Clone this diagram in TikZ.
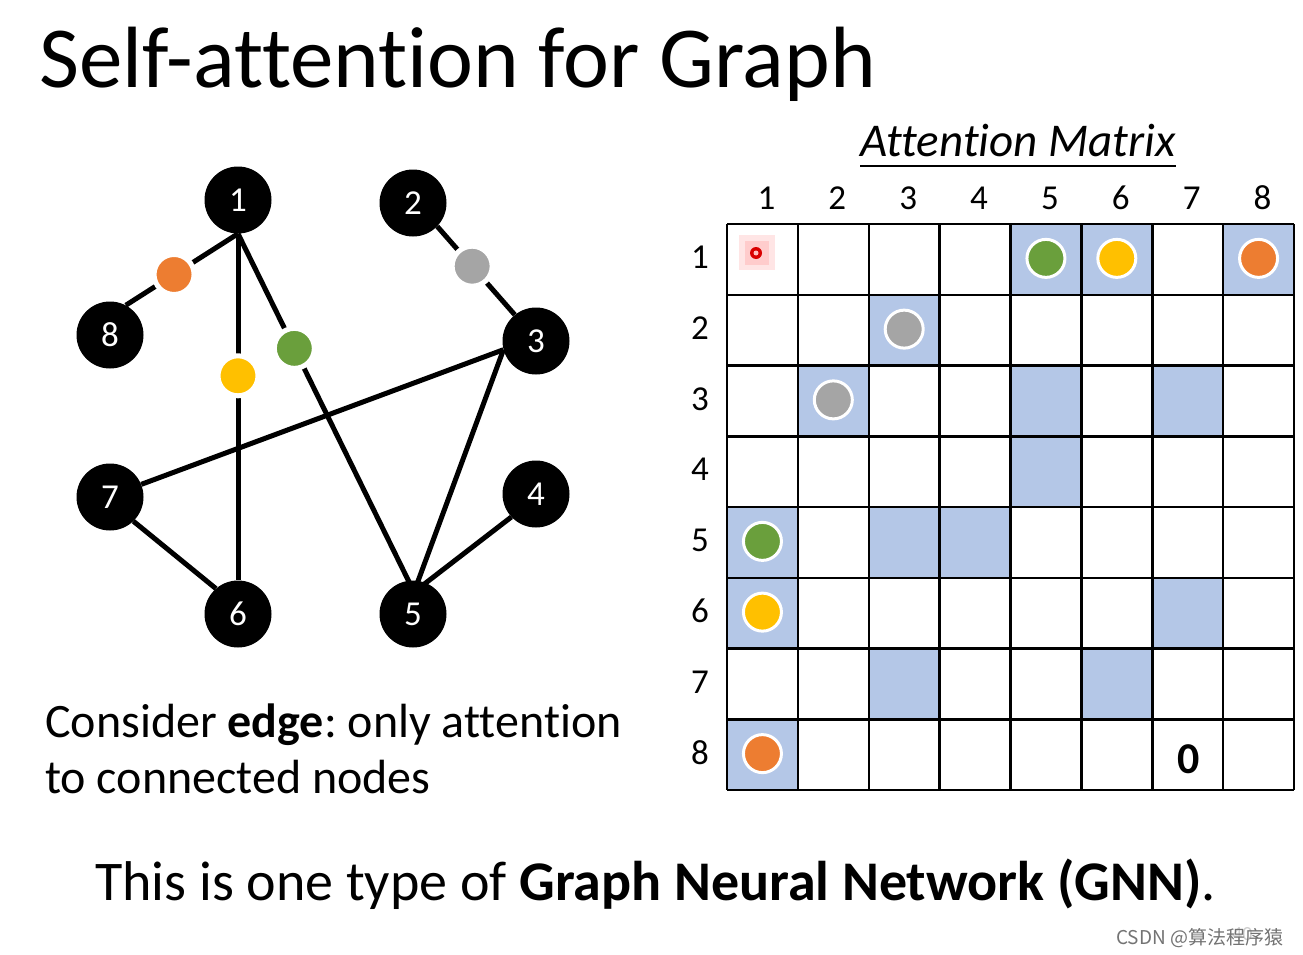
\documentclass[tikz,border=0pt]{standalone}
\usepackage{fontspec}
\setmainfont{Carlito}[Ligatures=NoCommon]
\newfontfamily\cjk{Noto Sans CJK SC}
\usetikzlibrary{backgrounds}
\frenchspacing
\definecolor{cellblue}{HTML}{B4C7E7}
\definecolor{dotgreen}{HTML}{6A9F3C}
\definecolor{dotyellow}{HTML}{FFC000}
\definecolor{dotorange}{HTML}{ED7D31}
\definecolor{dotgray}{HTML}{A5A5A5}

\begin{document}
\begin{tikzpicture}[x=1pt, y=-1pt,
  vertex/.style={circle, fill=black, minimum size=67pt, inner sep=0pt, text=white, font=\fontsize{35}{35}\selectfont},
  edge/.style={line width=5pt},
  attn/.style={circle, draw=white, line width=5pt, minimum size=40pt, inner sep=0pt},
  mdot/.style={circle, draw=white, line width=3pt, minimum size=38pt, inner sep=0pt},
  gridline/.style={line width=2.5pt},
  lbl/.style={font=\fontsize{35}{35}\selectfont, inner sep=0pt}]

\useasboundingbox (0,0) rectangle (1303,955);

% title
\node[anchor=base west, inner sep=0pt, font=\fontsize{87}{87}\selectfont] (title) at (39,88) {Self-attention for Graph};

% graph nodes
\node[vertex] (n1) at (238,200) {1};
\node[vertex] (n2) at (413,203) {2};
\node[vertex] (n3) at (536,341) {3};
\node[vertex] (n4) at (536,494) {4};
\node[vertex] (n5) at (413,614) {5};
\node[vertex] (n6) at (238,614) {6};
\node[vertex] (n7) at (110,497) {7};
\node[vertex] (n8) at (110,335) {8};
\coordinate (c5) at (414,592);

\begin{scope}[on background layer]
\fill[white] (0,0) rectangle (1303,955);
\draw[edge] (n1.south) -- node[attn, fill=dotorange, pos=0.57] (d18) {} (n8.62);
\draw[edge] (n1.south) -- node[attn, fill=dotyellow, pos=0.41] (d16) {} (n6.north);
\draw[edge] (n1.south) -- node[attn, fill=dotgreen, pos=0.32] (d15) {} (c5);
\draw[edge] (n2.-44) -- node[attn, fill=dotgray, pos=0.45] (d23) {} (n3.129);
\draw[edge] (n3.195) -- (n7.22);
\draw[edge] (n3.195) -- (c5);
\draw[edge] (n4.223) -- (c5);
\draw[edge] (n7.-46) -- (n6.131);
\end{scope}

% attention matrix
\node[anchor=base, inner sep=0pt, font=\itshape\fontsize{47}{47}\selectfont] (attitle) at (1018,157) {Attention Matrix};
\draw[line width=2pt] ([yshift=-9pt]attitle.base west) -- ([yshift=-9pt]attitle.base east);

\foreach \r/\c in {1/5,1/6,1/8,2/3,3/2,3/5,3/7,4/5,5/1,5/3,5/4,6/1,6/7,7/3,7/6,8/1}
  \fill[cellblue] ({727+(\c-1)*70.875},{224+(\r-1)*70.75}) rectangle ++(70.875,70.75);
\foreach \i in {0,...,8} {
  \draw[gridline] ({727+\i*70.875},224) -- ({727+\i*70.875},790);
  \draw[gridline] (727,{224+\i*70.75}) -- (1294,{224+\i*70.75});
}
\foreach \i in {1,...,8} {
  \node[lbl] (col\i) at ({731+(\i-0.5)*70.875},198) {\i};
  \node[lbl] (row\i) at (700,{222+(\i-0.5)*70.75}) {\i};
}
\foreach \r/\c/\col in {1/5/dotgreen,1/6/dotyellow,1/8/dotorange,2/3/dotgray,3/2/dotgray,5/1/dotgreen,6/1/dotyellow,8/1/dotorange}
  \node[mdot, fill=\col] (m\r\c) at ({727+(\c-0.5)*70.875},{223+(\r-0.5)*70.75}) {};

% pointer
\fill[red!10] (739,235) rectangle (775,270);
\fill[red!20] (745,241) rectangle (769,265);
\fill[red!85!black] (756,253) circle (6pt);
\fill[red!25] (756,253) circle (2.5pt);

\node[inner sep=0pt, font=\bfseries\fontsize{44}{44}\selectfont] (zero) at (1189,759) {0};

% texts
\node[anchor=base west, inner sep=0pt, font=\fontsize{48}{48}\selectfont] (cons1) at (45,737) {Consider \textbf{edge}: only attention};
\node[anchor=base west, inner sep=0pt, font=\fontsize{48}{48}\selectfont] (cons2) at (45,793) {to connected nodes};
\node[anchor=base west, inner sep=0pt, font=\fontsize{56}{56}\selectfont] (gnn) at (95,900) {This is one type of \textbf{Graph Neural Network (GNN)}.};

% watermark
\node[anchor=base west, inner sep=0pt, text=black!20, font=\fontsize{20}{20}\selectfont] (page) at (1232,940) {40};
\node[anchor=base west, inner sep=0pt, text=black!55, font=\cjk\fontsize{19}{19}\selectfont] (mark) at (1116,944) {CSDN @算法程序猿};

\end{tikzpicture}
\end{document}
